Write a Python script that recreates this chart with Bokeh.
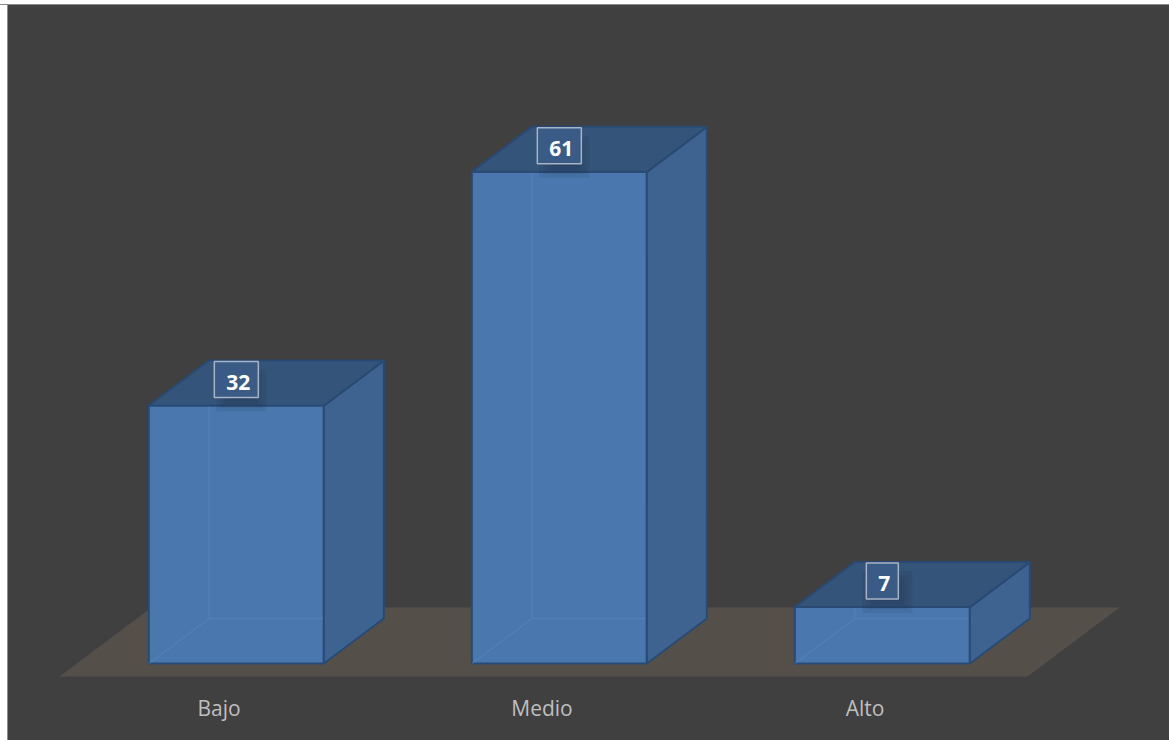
from bokeh.plotting import figure
from bokeh.models import Range1d, FixedTicker, Spacer, ColumnDataSource
from bokeh.layouts import column, row
from bokeh.embed import file_html
from bokeh.resources import INLINE
from bokeh.core.properties import value

# ---------------- data ----------------
categories = ["Bajo", "Medio", "Alto"]
values = [32, 61, 7]

# ---------------- geometry (pixels) ----------------
PX_X = 323.0        # px per category step
PX_Y = 8.06         # px per value unit
X0_PAGE = 218.5     # page x of category 0 centre at the floor front
Y0_PAGE = 663.0     # page y of value 0 on the bar front plane
LEFT_PAGE, TOP_PAGE = 8, 5
W, H = 1161, 735
AXIS_H = 55
FRAME_H = H - AXIS_H
DEPTH_DX = 60.0 / 45.0   # x shift per px of depth
BAR_FRONT_D, BAR_BACK_D, FLOOR_BACK_D = 13.0, 58.0, 69.0
HALF_W = 87.5 / PX_X
FLOOR_L, FLOOR_R = -0.494, 2.503


def P(xc, v, d):
    return xc + d * DEPTH_DX / PX_X, v + (d - BAR_FRONT_D) / PX_Y


xs0 = (LEFT_PAGE - X0_PAGE) / PX_X
ye0 = (Y0_PAGE - TOP_PAGE) / PX_Y

p = figure(width=W, height=H,
           x_range=Range1d(xs0, xs0 + W / PX_X),
           y_range=Range1d(ye0 - FRAME_H / PX_Y, ye0),
           output_backend="svg", toolbar_location=None,
           min_border_left=0, min_border_right=0, min_border_top=0,
           min_border_bottom=AXIS_H)
p.background_fill_color = "#404040"
p.border_fill_color = "#404040"
p.outline_line_color = None
p.grid.visible = False
p.yaxis.visible = False
p.styles = {"background-color": "#404040"}
ax = p.xaxis[0]
ax.ticker = FixedTicker(ticks=list(range(len(categories))))
ax.major_label_overrides = {i: c for i, c in enumerate(categories)}
ax.axis_line_color = None
ax.major_tick_line_color = None
ax.minor_tick_line_color = None
ax.major_label_standoff = 2
ax.major_label_text_font = "Open Sans"
ax.major_label_text_font_size = "21px"
ax.major_label_text_color = "#BFBFBF"

# floor
fl = [P(FLOOR_L, 0, 0), P(FLOOR_R, 0, 0), P(FLOOR_R, 0, FLOOR_BACK_D), P(FLOOR_L, 0, FLOOR_BACK_D)]
p.patch([a for a, b in fl], [b for a, b in fl], fill_color="#545049", line_color=None)

front_x, front_y, top_x, top_y, side_x, side_y = [], [], [], [], [], []
hid_x, hid_y = [], []
lab_x, lab_y = [], []
for i, v in enumerate(values):
    l, r = i - HALF_W, i + HALF_W
    f = [P(l, 0, BAR_FRONT_D), P(r, 0, BAR_FRONT_D), P(r, v, BAR_FRONT_D), P(l, v, BAR_FRONT_D)]
    t = [P(l, v, BAR_FRONT_D), P(r, v, BAR_FRONT_D), P(r, v, BAR_BACK_D), P(l, v, BAR_BACK_D)]
    s = [P(r, 0, BAR_FRONT_D), P(r, 0, BAR_BACK_D), P(r, v, BAR_BACK_D), P(r, v, BAR_FRONT_D)]
    for poly, X, Y in ((f, front_x, front_y), (t, top_x, top_y), (s, side_x, side_y)):
        X.append([a for a, b in poly])
        Y.append([b for a, b in poly])
    bl = P(l, 0, BAR_BACK_D)
    for seg in ([P(l, 0, BAR_FRONT_D), bl], [bl, P(r, 0, BAR_BACK_D)], [bl, P(l, v, BAR_BACK_D)]):
        hid_x.append([a for a, b in seg])
        hid_y.append([b for a, b in seg])
    cx, cy = P(i, v + 26 / PX_Y, BAR_FRONT_D)
    lab_x.append(cx)
    lab_y.append(cy)

edge = "#294A74"
p.patches(front_x, front_y, fill_color="#4A78AE", line_color=edge, line_width=2)
p.multi_line(hid_x, hid_y, line_color="#5C8AC2", line_alpha=0.4, line_width=1.5)
p.patches(side_x, side_y, fill_color="#3F6391", line_color=edge, line_width=2)
p.patches(top_x, top_y, fill_color="#355479", line_color=edge, line_width=2)

# soft shadow under the value labels
for w_, h_ in ((50, 42), (42, 34), (34, 26), (26, 18)):
    p.rect([x + 5 / PX_X for x in lab_x], [y - 11 / PX_Y for y in lab_y], width=w_, height=h_,
           width_units="screen", height_units="screen",
           fill_color="#1E2F47", fill_alpha=0.11, line_color=None)

src = ColumnDataSource(dict(x=lab_x, y=lab_y, t=[str(v) for v in values]))
p.text("x", "y", text="t", source=src, text_align="center", text_baseline="middle",
       text_font=value("Open Sans"), text_font_style="bold", text_font_size="21px",
       text_color="white", background_fill_color="#3A5B86",
       border_line_color="#A8B4C5", border_line_width=1.5, padding=(12, 8, 13, 8))

left_sp = Spacer(width=LEFT_PAGE, height=H,
                 styles={"background": "linear-gradient(to right, #FFFFFF 7px, #8C8C8C 7px)"})
top_sp = Spacer(height=TOP_PAGE, width=W + LEFT_PAGE,
                styles={"background": "linear-gradient(to bottom, #FFFFFF 4px, #8C8C8C 4px)"})
layout = column(top_sp, row(left_sp, p))

open("out.html", "w").write(file_html(layout, INLINE))
